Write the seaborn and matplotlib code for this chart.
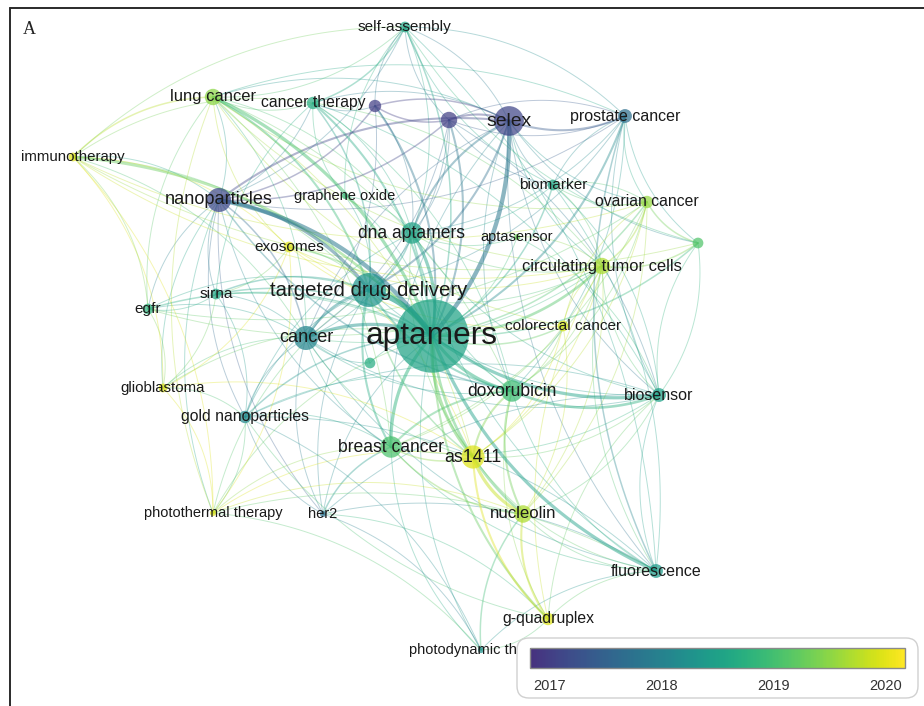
"""
Keyword co-occurrence overlay map (VOSviewer style) redrawn with seaborn.
Nodes are coloured by average publication year, sized by occurrences.
"""

import numpy as np
import pandas as pd
import seaborn as sns

from matplotlib import pyplot as plt
from matplotlib import colors as mcolors
from matplotlib.cm import ScalarMappable
from matplotlib.patches import FancyBboxPatch


# keyword nodes: label, layout position, occurrences, average publication year
labels = ['aptamers', 'targeted drug delivery', 'selex', 'cancer',
          'nanoparticles', 'dna aptamers', 'doxorubicin', 'breast cancer',
          'as1411', 'nucleolin', 'lung cancer', 'circulating tumor cells',
          'prostate cancer', 'biosensor', 'fluorescence', 'ovarian cancer',
          'cancer therapy', 'gold nanoparticles', 'colorectal cancer',
          'g-quadruplex', 'photodynamic therapy', 'her2',
          'photothermal therapy', 'glioblastoma', 'egfr', 'sirna',
          'exosomes', 'graphene oxide', 'self-assembly', 'immunotherapy',
          'biomarker', 'aptasensor', '', '', '', '']
layout_x = [432, 369, 509, 306, 219, 412, 512, 391, 473, 523, 213, 602,
            625, 659, 656, 647, 313, 245, 563, 548, 481, 323, 213, 163,
            148, 216, 289, 345, 405, 73, 553, 517, 375, 449, 698, 370]
layout_y = [336, 290, 121, 338, 200, 233, 391, 447, 457, 514, 97, 266,
            116, 395, 571, 202, 103, 417, 326, 619, 650, 514, 513, 388,
            309, 294, 247, 196, 27, 157, 185, 237, 106, 120, 243, 363]
occurrences = [140, 30, 23, 15, 15, 12, 12, 12, 14, 8, 7, 7,
               5, 5, 5, 4, 4, 4, 3, 4, 1, 1, 1, 2,
               3, 3, 3, 1, 3, 2, 3, 1, 4, 7, 3, 3]
avg_year = [2018.55, 2018.3, 2017.1, 2018.05, 2017.15, 2018.55, 2018.95,
            2019.05, 2019.95, 2019.7, 2019.5, 2019.7, 2017.7, 2018.5,
            2018.4, 2019.55, 2018.7, 2018.1, 2019.9, 2019.95, 2018.2,
            2017.7, 2019.95, 2019.95, 2018.8, 2018.6, 2020.0, 2018.9,
            2018.6, 2020.0, 2018.6, 2019.3, 2017.0, 2017.05, 2019.1, 2018.7]

# co-occurrence links (node index, node index, strength)
links = [
    (0, 1, 5), (0, 2, 4), (0, 3, 3), (0, 4, 4), (0, 5, 3), (0, 6, 3),
    (0, 7, 3), (0, 8, 3), (0, 9, 2.5), (0, 10, 3), (0, 11, 2.5), (0, 12, 2),
    (0, 13, 3), (0, 14, 3), (0, 15, 1.5), (0, 16, 2), (0, 17, 1.5),
    (0, 18, 1.5), (0, 19, 2), (0, 20, 1), (0, 21, 1), (0, 22, 1), (0, 23, 1),
    (0, 24, 1.5), (0, 25, 1.5), (0, 26, 1.5), (0, 27, 1), (0, 28, 1.5),
    (0, 29, 2.5), (0, 30, 1.5), (0, 31, 1), (0, 32, 2), (0, 33, 2),
    (0, 34, 1.5), (0, 35, 1),
    (1, 2, 2), (1, 3, 2.5), (1, 4, 3), (1, 5, 1.5), (1, 6, 2), (1, 7, 2),
    (1, 8, 1.5), (1, 10, 2), (1, 11, 1), (1, 16, 1.5), (1, 17, 1),
    (1, 24, 1), (1, 25, 1.5), (1, 26, 1), (1, 29, 1), (1, 33, 1),
    (1, 13, 1), (1, 12, 1), (1, 21, 1), (1, 22, 1), (1, 35, 1), (1, 27, 1),
    (2, 4, 2), (2, 5, 2), (2, 12, 2), (2, 16, 1), (2, 32, 1.5), (2, 33, 2),
    (2, 30, 1), (2, 28, 1), (2, 13, 1), (2, 14, 1), (2, 3, 1), (2, 11, 1),
    (2, 15, 1), (2, 10, 1), (2, 6, 1), (2, 7, 1), (2, 34, 1),
    (3, 4, 1.5), (3, 5, 1), (3, 6, 1), (3, 7, 1), (3, 8, 1), (3, 17, 1),
    (3, 23, 1), (3, 24, 1), (3, 25, 1), (3, 21, 1), (3, 14, 1), (3, 13, 1),
    (3, 29, 1), (3, 10, 1), (3, 11, 1), (3, 35, 1), (3, 32, 1), (3, 33, 1),
    (4, 10, 1), (4, 16, 1), (4, 17, 1), (4, 25, 1), (4, 24, 1), (4, 6, 1.5),
    (4, 7, 1), (4, 32, 1.5), (4, 33, 1.5), (4, 29, 1), (4, 22, 1),
    (4, 23, 1), (4, 21, 1), (4, 28, 1), (4, 12, 1),
    (5, 6, 1), (5, 8, 1), (5, 11, 1), (5, 13, 1), (5, 30, 1), (5, 16, 1),
    (5, 28, 1), (5, 33, 1), (5, 10, 1), (5, 12, 1), (5, 14, 1), (5, 17, 1),
    (5, 27, 1), (5, 31, 1), (5, 32, 1),
    (6, 7, 2), (6, 8, 2), (6, 9, 2), (6, 13, 2.5), (6, 14, 1), (6, 11, 1),
    (6, 18, 1), (6, 15, 1), (6, 17, 1), (6, 19, 1), (6, 10, 1), (6, 12, 1),
    (6, 16, 1), (6, 25, 1),
    (7, 8, 1.5), (7, 9, 1.5), (7, 21, 1.5), (7, 17, 1), (7, 11, 1),
    (7, 15, 1), (7, 22, 1), (7, 10, 1), (7, 20, 1), (7, 13, 1), (7, 14, 1),
    (8, 9, 3), (8, 19, 2), (8, 11, 1), (8, 18, 1), (8, 15, 1), (8, 22, 1),
    (8, 26, 1), (8, 23, 1), (8, 13, 1), (8, 14, 1), (8, 10, 1),
    (9, 19, 2), (9, 20, 1.5), (9, 14, 1), (9, 13, 1), (9, 11, 1),
    (9, 15, 1), (9, 18, 1), (9, 22, 1),
    (10, 29, 1.5), (10, 16, 1), (10, 26, 1), (10, 24, 1), (10, 11, 1),
    (10, 15, 1), (10, 18, 1), (10, 22, 1), (10, 28, 1),
    (11, 15, 1.5), (11, 18, 1), (11, 34, 1.5), (11, 13, 1), (11, 30, 1),
    (11, 14, 1), (11, 19, 1), (11, 16, 1), (11, 31, 1),
    (12, 30, 1), (12, 14, 1.5), (12, 13, 1), (12, 15, 1), (12, 34, 1),
    (12, 28, 1), (12, 33, 1), (12, 10, 1),
    (13, 14, 1), (13, 31, 1), (13, 30, 1), (13, 34, 1), (13, 19, 1),
    (13, 17, 1), (13, 21, 1), (13, 16, 1), (13, 33, 1),
    (14, 19, 1), (14, 20, 1), (14, 21, 1), (14, 28, 1), (14, 17, 1),
    (14, 22, 1), (14, 30, 1),
    (15, 34, 1.5), (15, 18, 1), (15, 30, 1),
    (16, 28, 1.5), (16, 32, 1), (16, 25, 1), (16, 27, 1), (16, 29, 1),
    (17, 21, 1), (17, 23, 1), (17, 25, 1), (17, 19, 1),
    (19, 21, 1),
    (20, 21, 1), (20, 17, 1), (20, 19, 1), (20, 22, 1),
    (22, 17, 1), (22, 23, 1), (22, 29, 1), (22, 26, 1),
    (23, 24, 1), (23, 25, 1), (23, 29, 1), (23, 26, 1),
    (24, 25, 1), (24, 29, 1), (24, 15, 1), (24, 11, 1),
    (25, 26, 1),
    (26, 29, 1), (26, 11, 1), (26, 18, 1),
    (28, 29, 1), (28, 32, 1), (28, 27, 1), (28, 30, 1), (28, 33, 1),
    (28, 34, 1),
    (29, 11, 1), (29, 15, 1), (29, 34, 1),
    (30, 15, 1),
    (32, 33, 1.5), (33, 12, 1), (33, 30, 1), (34, 13, 1),
]

year_ticks = [2017, 2018, 2019, 2020]


def arc(p, q, bend=0.2, n=50):
    """Quadratic Bezier curve between two layout points."""
    p = np.asarray(p, float)
    q = np.asarray(q, float)
    d = q - p
    ctrl = (p + q) / 2 + bend * np.array([-d[1], d[0]])
    t = np.linspace(0, 1, n)[:, None]
    return (1 - t) ** 2 * p + 2 * (1 - t) * t * ctrl + t ** 2 * q


def main():
    sns.set_theme(style='white')
    plt.rcParams['font.family'] = ['Liberation Sans', 'DejaVu Sans']

    nodes = pd.DataFrame({'label': labels, 'x': layout_x, 'y': layout_y,
                          'occurrences': occurrences, 'year': avg_year})

    cmap = mcolors.ListedColormap(plt.cm.viridis(np.linspace(0.14, 1, 256)))
    norm = mcolors.Normalize(2016.83, 2020.17)

    fig = plt.figure(figsize=(9.24, 7.06), dpi=100)
    ax = fig.add_axes([0, 0, 1, 1])

    # links, thin ones first
    for i, j, w in sorted(links, key=lambda l: l[2]):
        pts = arc((layout_x[i], layout_y[i]), (layout_x[j], layout_y[j]))
        col = cmap(norm((avg_year[i] + avg_year[j]) / 2))
        ax.plot(pts[:, 0], pts[:, 1], color=col,
                lw=0.7 + 0.8 * (w - 1), alpha=0.33 + 0.07 * (w - 1),
                solid_capstyle='round', zorder=1)

    # nodes: area proportional to occurrences
    sns.scatterplot(data=nodes, x='x', y='y', hue='year', size='occurrences',
                    palette=cmap, hue_norm=norm, sizes=(0, 2790),
                    size_norm=(0, 140), alpha=0.72, linewidth=0,
                    legend=False, ax=ax, zorder=2)
    ax.set_xlim(0, 924)
    ax.set_ylim(706, 0)
    ax.axis('off')

    for _, row in nodes.iterrows():
        if not row['label']:
            continue
        r = 3.1 * np.sqrt(row['occurrences'])
        px = 13.5 + 0.33 * r + 0.0045 * r ** 2
        ax.text(row['x'], row['y'], row['label'], ha='center', va='center',
                fontsize=px * 0.72, color='#1a1a1a', zorder=3)

    # panel frame and letter
    ax.plot([10, 924], [8, 8], color='#2a2a2a', lw=1.4, zorder=6)
    ax.plot([10, 10], [8, 706], color='#2a2a2a', lw=1.4, zorder=6)
    ax.text(23, 29, 'A', fontsize=13, family=['Liberation Serif'],
            ha='left', va='center', color='#222222', zorder=6)

    # colour legend
    box = FancyBboxPatch((517, 638), 401, 60,
                         boxstyle='round,pad=0,rounding_size=12',
                         facecolor='white', edgecolor='#d0d0d0', lw=1,
                         zorder=5)
    ax.add_patch(box)

    cax = fig.add_axes([530 / 924, 1 - 668 / 706, 375 / 924, 20 / 706])
    cb = fig.colorbar(ScalarMappable(norm=norm, cmap=cmap), cax=cax,
                      orientation='horizontal', ticks=year_ticks)
    cb.outline.set_edgecolor('#8a8a8a')
    cb.outline.set_linewidth(1)
    cax.tick_params(direction='in', length=7, width=1, color='#666666',
                    labelsize=10.5, labelcolor='#333333', pad=8)
    cb.set_ticklabels([str(y) for y in year_ticks])

    plt.savefig('out.png', dpi=100)


if __name__ == '__main__':
    main()
